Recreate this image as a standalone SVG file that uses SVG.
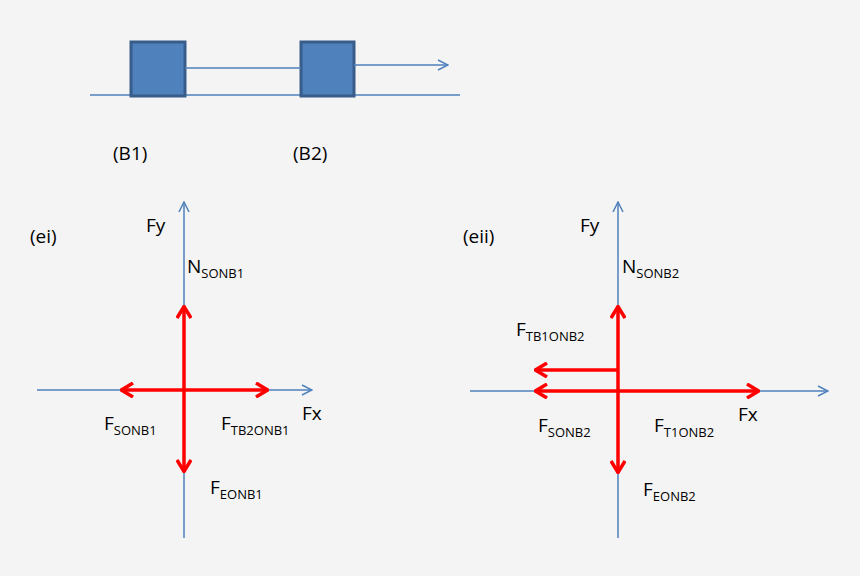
<svg xmlns="http://www.w3.org/2000/svg" width="860" height="576" viewBox="0 0 860 576">
<defs>
<marker id="ob" viewBox="0 0 12 12" refX="11" refY="6" markerWidth="12" markerHeight="12" markerUnits="userSpaceOnUse" orient="auto"><path d="M1,1 L11,6 L1,11" fill="none" stroke="#4f81bd" stroke-width="1.5"/></marker>
<marker id="or" viewBox="0 0 16 16" refX="15" refY="8" markerWidth="16" markerHeight="16" markerUnits="userSpaceOnUse" orient="auto"><path d="M3,1 L14.5,8 L3,15" fill="none" stroke="#ff0000" stroke-width="3.5"/></marker>
</defs>
<style>
.ax{stroke:#4f81bd;stroke-width:1.5;fill:none}
.rd{stroke:#ff0000;stroke-width:3.5;fill:none}
text{font-family:"Open Sans","Liberation Sans",sans-serif;font-size:19px;fill:#000}
.s{font-size:13px}
.box{fill:#4f81bd;stroke:#385d8a;stroke-width:3}
</style>
<rect width="860" height="576" fill="#f4f4f4"/>
<g id="ground"><line class="ax" x1="90" y1="95" x2="460" y2="95"/></g>
<g id="B1"><rect class="box" x="131" y="42" width="54" height="54"/><text x="113" y="160">(B1)</text></g>
<g id="B2"><rect class="box" x="301" y="42" width="53" height="54"/><text x="293" y="160">(B2)</text></g>
<g id="connectors">
<line class="ax" x1="185" y1="68" x2="301" y2="68"/>
<line class="ax" x1="354" y1="65" x2="448" y2="65" marker-end="url(#ob)"/>
<line class="ax" x1="184" y1="538" x2="184" y2="202" marker-end="url(#ob)"/>
<line class="ax" x1="37" y1="390" x2="312" y2="390" marker-end="url(#ob)"/>
<line class="rd" x1="184" y1="390" x2="184" y2="306" marker-end="url(#or)"/>
<line class="rd" x1="184" y1="390" x2="184" y2="472" marker-end="url(#or)"/>
<line class="rd" x1="184" y1="390" x2="121" y2="390" marker-end="url(#or)"/>
<line class="rd" x1="184" y1="390" x2="268" y2="390" marker-end="url(#or)"/>
<line class="ax" x1="618" y1="538" x2="618" y2="202" marker-end="url(#ob)"/>
<line class="ax" x1="470" y1="391" x2="828" y2="391" marker-end="url(#ob)"/>
<line class="rd" x1="618" y1="391" x2="618" y2="306" marker-end="url(#or)"/>
<line class="rd" x1="618" y1="391" x2="618" y2="473" marker-end="url(#or)"/>
<line class="rd" x1="618" y1="391" x2="535" y2="391" marker-end="url(#or)"/>
<line class="rd" x1="618" y1="391" x2="759" y2="391" marker-end="url(#or)"/>
<line class="rd" x1="618" y1="370" x2="535" y2="370" marker-end="url(#or)"/>
</g>
<g id="ei">
<text x="30" y="243">(ei)</text>
<text x="146" y="232">Fy</text>
<text x="302" y="420">Fx</text>
<text x="187" y="273">N<tspan class="s" dy="5">SONB1</tspan></text>
<text x="104" y="430">F<tspan class="s" dy="5">SONB1</tspan></text>
<text x="221" y="430">F<tspan class="s" dy="5">TB2ONB1</tspan></text>
<text x="210" y="494">F<tspan class="s" dy="5">EONB1</tspan></text>
</g>
<g id="eii">
<text x="463" y="243">(eii)</text>
<text x="580" y="232">Fy</text>
<text x="738" y="421">Fx</text>
<text x="622" y="273">N<tspan class="s" dy="5">SONB2</tspan></text>
<text x="516" y="336">F<tspan class="s" dy="5">TB1ONB2</tspan></text>
<text x="538" y="432">F<tspan class="s" dy="5">SONB2</tspan></text>
<text x="654" y="432">F<tspan class="s" dy="5">T1ONB2</tspan></text>
<text x="643" y="496">F<tspan class="s" dy="5">EONB2</tspan></text>
</g>
</svg>
